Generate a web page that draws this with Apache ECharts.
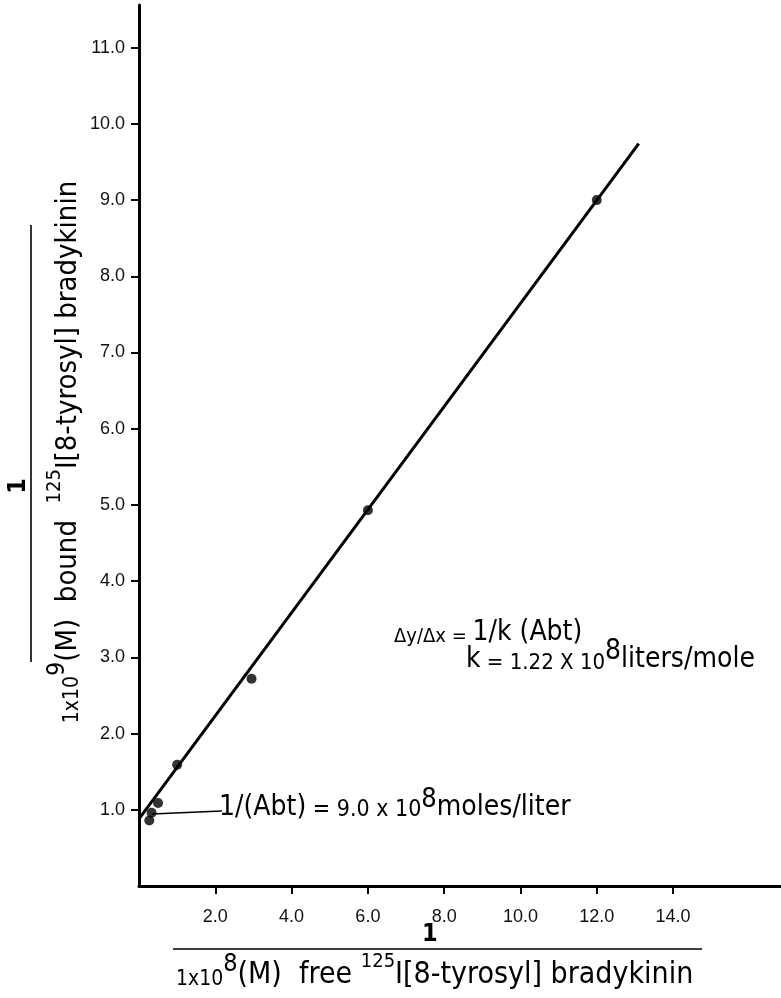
<!DOCTYPE html>
<html>
<head>
<meta charset="utf-8">
<script src="https://cdn.jsdelivr.net/npm/echarts@6/dist/echarts.min.js"></script>
<style>
html,body{margin:0;padding:0;background:#fff;}
#chart{width:781px;height:998px;}
</style>
</head>
<body>
<div id="chart"></div>
<script>
// ---- data ----
var pointsX = [0.27, 0.33, 0.5, 1.0, 2.95, 6.0, 12.0];
var pointsY = [0.86, 0.96, 1.09, 1.59, 2.72, 4.93, 9.0];
var fitX = [0, 13.1];
var fitY = [0.88, 9.74];
var pointerX = [0.33, 2.17];
var pointerY = [0.945, 0.984];
var xTicks = [2, 4, 6, 8, 10, 12, 14];
var yTicks = [1, 2, 3, 4, 5, 6, 7, 8, 9, 10, 11];

function pairs(xs, ys) { return xs.map(function (x, i) { return [x, ys[i]]; }); }

var TF = '"DejaVu Sans Condensed","DejaVu Sans",sans-serif';
var NF = '"Liberation Sans",Arial,sans-serif';

function richSet(big, small, sup, sup2, lh) {
  return {
    b: {fontFamily: TF, fontSize: big, fill: '#000', verticalAlign: 'bottom', lineHeight: lh},
    s: {fontFamily: TF, fontSize: small, fill: '#000', verticalAlign: 'bottom', lineHeight: lh},
    sup: {fontFamily: TF, fontSize: sup, fill: '#000', verticalAlign: 'top', lineHeight: lh},
    sup2: {fontFamily: TF, fontSize: sup2, fill: '#000', verticalAlign: 'top', lineHeight: lh}
  };
}

var chart = echarts.init(document.getElementById('chart'), null, {renderer: 'canvas'});
chart.setOption({
  backgroundColor: '#fff',
  animation: false,
  grid: {left: 139, right: 0, top: 5, bottom: 112, containLabel: false},
  xAxis: {
    type: 'value', min: 0, max: 16.83,
    axisLine: {show: true, onZero: false, lineStyle: {color: '#000', width: 3}},
    axisTick: {show: true, customValues: xTicks, length: 8, lineStyle: {color: '#000', width: 2}},
    axisLabel: {show: true, customValues: xTicks, margin: 22, fontFamily: NF, fontSize: 18, color: '#111',
      formatter: function (v) { return v.toFixed(1); }},
    splitLine: {show: false}
  },
  yAxis: {
    type: 'value', min: 0, max: 11.56,
    axisLine: {show: true, onZero: false, lineStyle: {color: '#000', width: 3}},
    axisTick: {show: true, customValues: yTicks, length: 8, lineStyle: {color: '#000', width: 2}},
    axisLabel: {show: true, customValues: yTicks, margin: 14, fontFamily: NF, fontSize: 18, color: '#111',
      formatter: function (v) { return v.toFixed(1); }},
    splitLine: {show: false}
  },
  series: [
    {type: 'line', data: pairs(fitX, fitY), showSymbol: false, symbol: 'none',
      lineStyle: {color: '#000', width: 3}, z: 2},
    {type: 'line', data: pairs(pointerX, pointerY), showSymbol: false, symbol: 'none',
      lineStyle: {color: '#000', width: 1.6}, z: 2},
    {type: 'scatter', data: pairs(pointsX, pointsY), symbol: 'circle', symbolSize: 10,
      itemStyle: {color: '#000'}, z: 3}
  ],
  graphic: [
    // x-axis title fraction
    {type: 'text', left: 422, top: 922, style: {text: '1', font: 'bold 25px ' + TF, fill: '#000'}},
    {type: 'line', shape: {x1: 173, y1: 949, x2: 702, y2: 949}, style: {stroke: '#000', lineWidth: 1.6}},
    {type: 'text', left: 176, top: 952, style: {
      text: '{s|1x10}{sup|8}{b|(M)  free }{sup2|125}{b|I[8-tyrosyl] bradykinin}',
      rich: richSet(30, 21, 25, 20, 38)
    }},
    // y-axis title fraction (rotated)
    {type: 'text', x: 18, y: 486, rotation: Math.PI / 2, style: {text: '1', font: 'bold 25px ' + TF, fill: '#000', textAlign: 'center', textVerticalAlign: 'middle'}},
    {type: 'line', shape: {x1: 31, y1: 225, x2: 31, y2: 662}, style: {stroke: '#000', lineWidth: 1.6}},
    {type: 'text', x: 64, y: 452, rotation: Math.PI / 2, style: {
      text: '{s|1x10}{sup|9}{b|(M)  bound  }{sup2|125}{b|I[8-tyrosyl] bradykinin}',
      textAlign: 'center', textVerticalAlign: 'middle',
      rich: richSet(29, 21, 25, 20, 38)
    }},
    // annotation: intercept
    {type: 'text', left: 219, top: 786, style: {
      text: '{b|1/(Abt)}{s| = 9.0 x 10}{sup|8}{b|moles/liter}',
      rich: richSet(28, 23, 27, 20, 36)
    }},
    // annotation: slope
    {type: 'text', left: 394, top: 619, style: {
      text: '{s|Δy/Δx = }{b|1/k (Abt)}',
      rich: richSet(28, 20, 26, 20, 32)
    }},
    {type: 'text', left: 466, top: 638, style: {
      text: '{b|k}{s| = 1.22 X 10}{sup|8}{b|liters/mole}',
      rich: richSet(28, 22, 28, 20, 36)
    }}
  ]
});
</script>
</body>
</html>
